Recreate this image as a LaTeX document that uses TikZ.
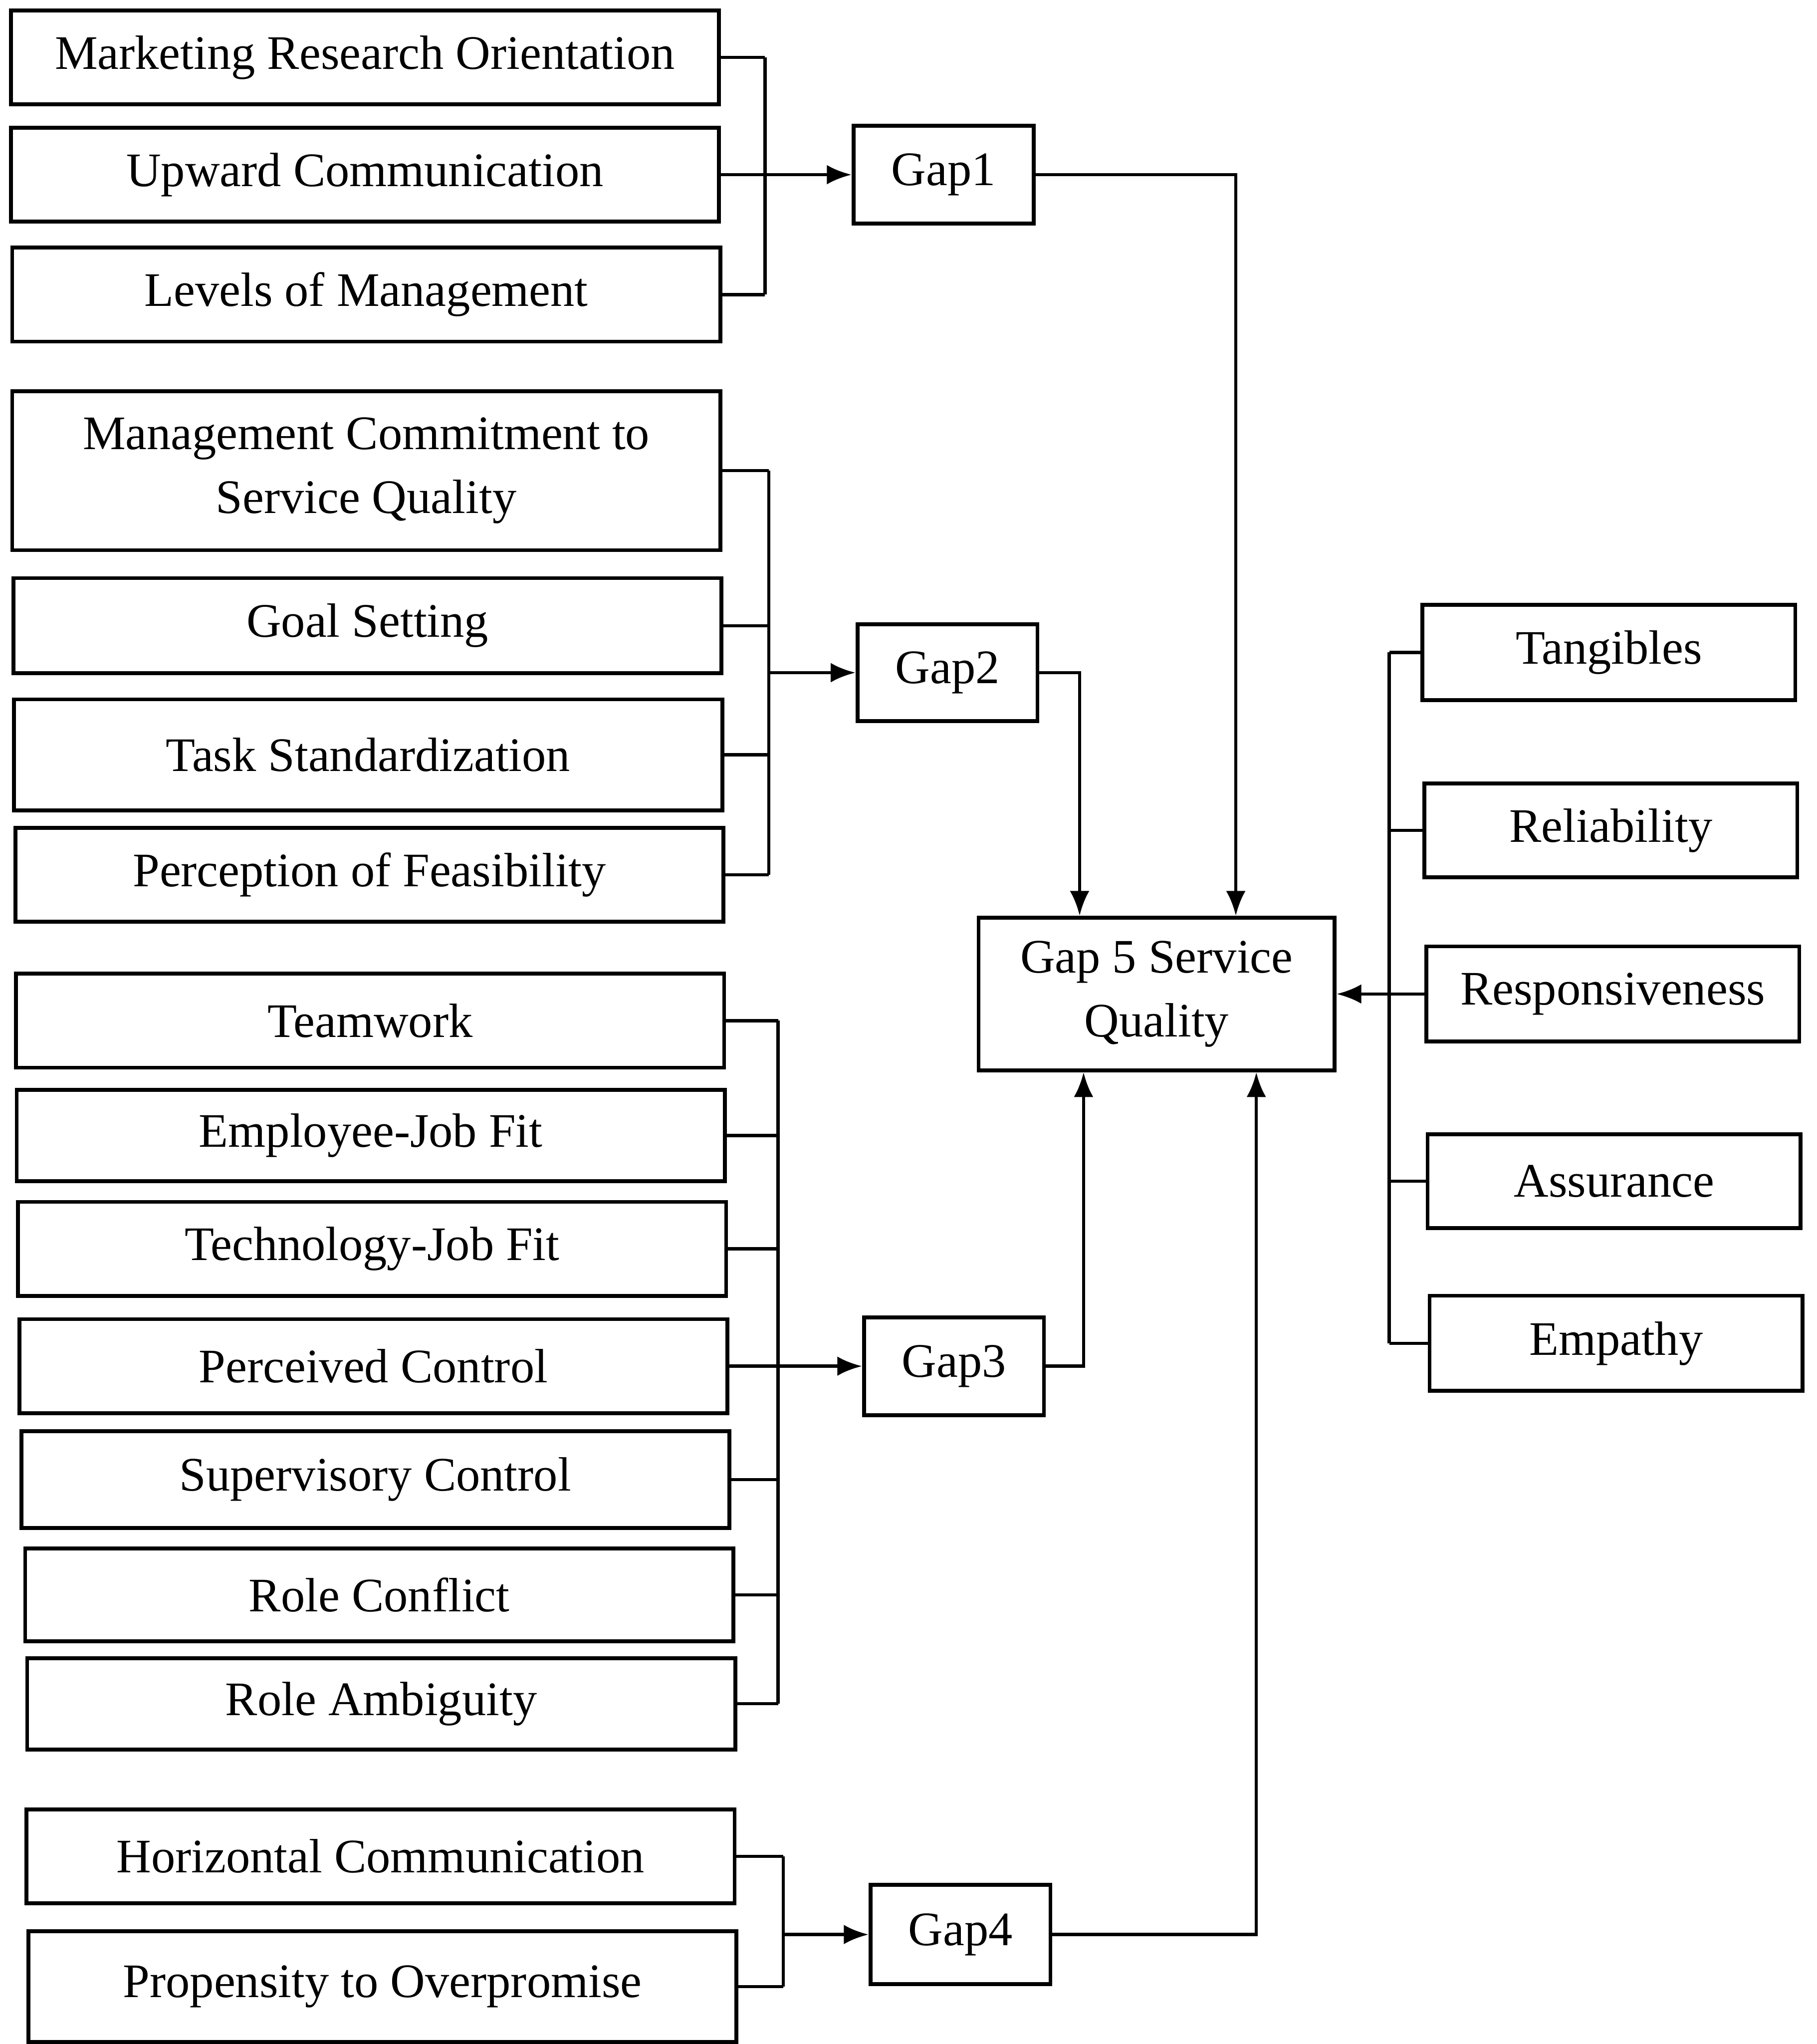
\documentclass[tikz,border=0pt]{standalone}
\usepackage{fontspec}
\setmainfont{Liberation Serif}
\usetikzlibrary{arrows.meta,calc}

\begin{document}
\begin{tikzpicture}[x=0.01cm,y=-0.01cm,
    font=\fontsize{10.5}{14}\selectfont,
    lbox/.style={draw,line width=0.85pt,minimum width=5.43cm,minimum height=0.72cm,align=center,inner sep=1pt},
    rbox/.style={draw,line width=0.85pt,minimum width=2.86cm,minimum height=0.73cm},
    gbox/.style={draw,line width=0.85pt,minimum width=1.38cm,minimum height=0.75cm,align=center},
    link/.style={line width=0.7pt},
    arr/.style={link,-{Latex[length=1.9mm,width=1.5mm]}}]
  \useasboundingbox (0,0) rectangle (1394,1568);

  % gap 1
  \node[lbox] (mro) at (280,44) {Marketing Research Orientation};
  \node[lbox] (upc) at (280,134) {Upward Communication};
  \node[lbox] (lom) at (281,226) {Levels of Management};
  \node[gbox] (gap1) at (724,134) {Gap1};

  % gap 2
  \node[lbox,minimum height=1.22cm] (mcs) at (281,361) {Management Commitment to\\Service Quality};
  \node[lbox,minimum height=0.73cm] (gs) at (282,480) {Goal Setting};
  \node[lbox,minimum height=0.85cm] (ts) at (282.5,579) {Task Standardization};
  \node[lbox] (pof) at (283.5,671) {Perception of Feasibility};
  \node[gbox,minimum height=0.74cm] (gap2) at (727,516) {Gap2};

  % gap 3
  \node[lbox] (tw) at (284,783) {Teamwork};
  \node[lbox,minimum height=0.70cm] (ejf) at (284.5,871) {Employee-Job Fit};
  \node[lbox] (tjf) at (285.5,958) {Technology-Job Fit};
  \node[lbox] (pc) at (286.5,1048) {Perceived Control};
  \node[lbox,minimum height=0.74cm] (sc) at (288,1135) {Supervisory Control};
  \node[lbox,minimum height=0.71cm] (rc) at (291,1223.5) {Role Conflict};
  \node[lbox,minimum height=0.70cm] (ra) at (292.5,1307) {Role Ambiguity};
  \node[gbox] (gap3) at (732,1048) {Gap3};

  % gap 4
  \node[lbox] (hc) at (292,1424) {Horizontal Communication};
  \node[lbox,minimum height=0.85cm] (pto) at (293.5,1524) {Propensity to Overpromise};
  \node[gbox,minimum height=0.76cm] (gap4) at (737,1484) {Gap4};

  % gap 5 and its dimensions
  \node[gbox,minimum width=2.73cm,minimum height=1.17cm] (gap5) at (887.5,762.5) {Gap 5 Service\\Quality};
  \node[rbox] (tan) at (1234.5,500.5) {Tangibles};
  \node[rbox,minimum height=0.72cm] (rel) at (1236,637) {Reliability};
  \node[rbox] (res) at (1237.5,762.5) {Responsiveness};
  \node[rbox,minimum height=0.72cm] (ass) at (1238.5,906) {Assurance};
  \node[rbox] (emp) at (1240,1030.5) {Empathy};

  \coordinate (s1) at (587,0);
  \coordinate (s2) at (590,0);
  \coordinate (s3) at (597,0);
  \coordinate (s4) at (601,0);
  \coordinate (s5) at (1066,0);

  % brackets
  \foreach \n in {mro,upc,lom} \draw[link] (\n.east) -- (\n.east -| s1);
  \draw[link] (mro.east -| s1) -- (lom.east -| s1);
  \foreach \n in {mcs,gs,ts,pof} \draw[link] (\n.east) -- (\n.east -| s2);
  \draw[link] (mcs.east -| s2) -- (pof.east -| s2);
  \foreach \n in {tw,ejf,tjf,pc,sc,rc,ra} \draw[link] (\n.east) -- (\n.east -| s3);
  \draw[link] (tw.east -| s3) -- (ra.east -| s3);
  \foreach \n in {hc,pto} \draw[link] (\n.east) -- (\n.east -| s4);
  \draw[link] (hc.east -| s4) -- (pto.east -| s4);
  \foreach \n in {tan,rel,ass,emp} \draw[link] (\n.west) -- (\n.west -| s5);
  \draw[link] (tan.west -| s5) -- (emp.west -| s5);

  % into the gaps
  \draw[arr] (upc.east) -- (gap1.west);
  \draw[arr] (gap2.west -| s2) -- (gap2.west);
  \draw[arr] (pc.east) -- (gap3.west);
  \draw[arr] (gap4.west -| s4) -- (gap4.west);
  \draw[arr] (res.west) -- (gap5.east);

  % into gap 5
  \draw[arr] (gap1.east) -| ($(gap5.north west)!0.72!(gap5.north east)$);
  \draw[arr] (gap2.east) -| ($(gap5.north west)!0.286!(gap5.north east)$);
  \draw[arr] (gap3.east) -| ($(gap5.south west)!0.297!(gap5.south east)$);
  \draw[arr] (gap4.east) -| ($(gap5.south west)!0.777!(gap5.south east)$);
\end{tikzpicture}
\end{document}
